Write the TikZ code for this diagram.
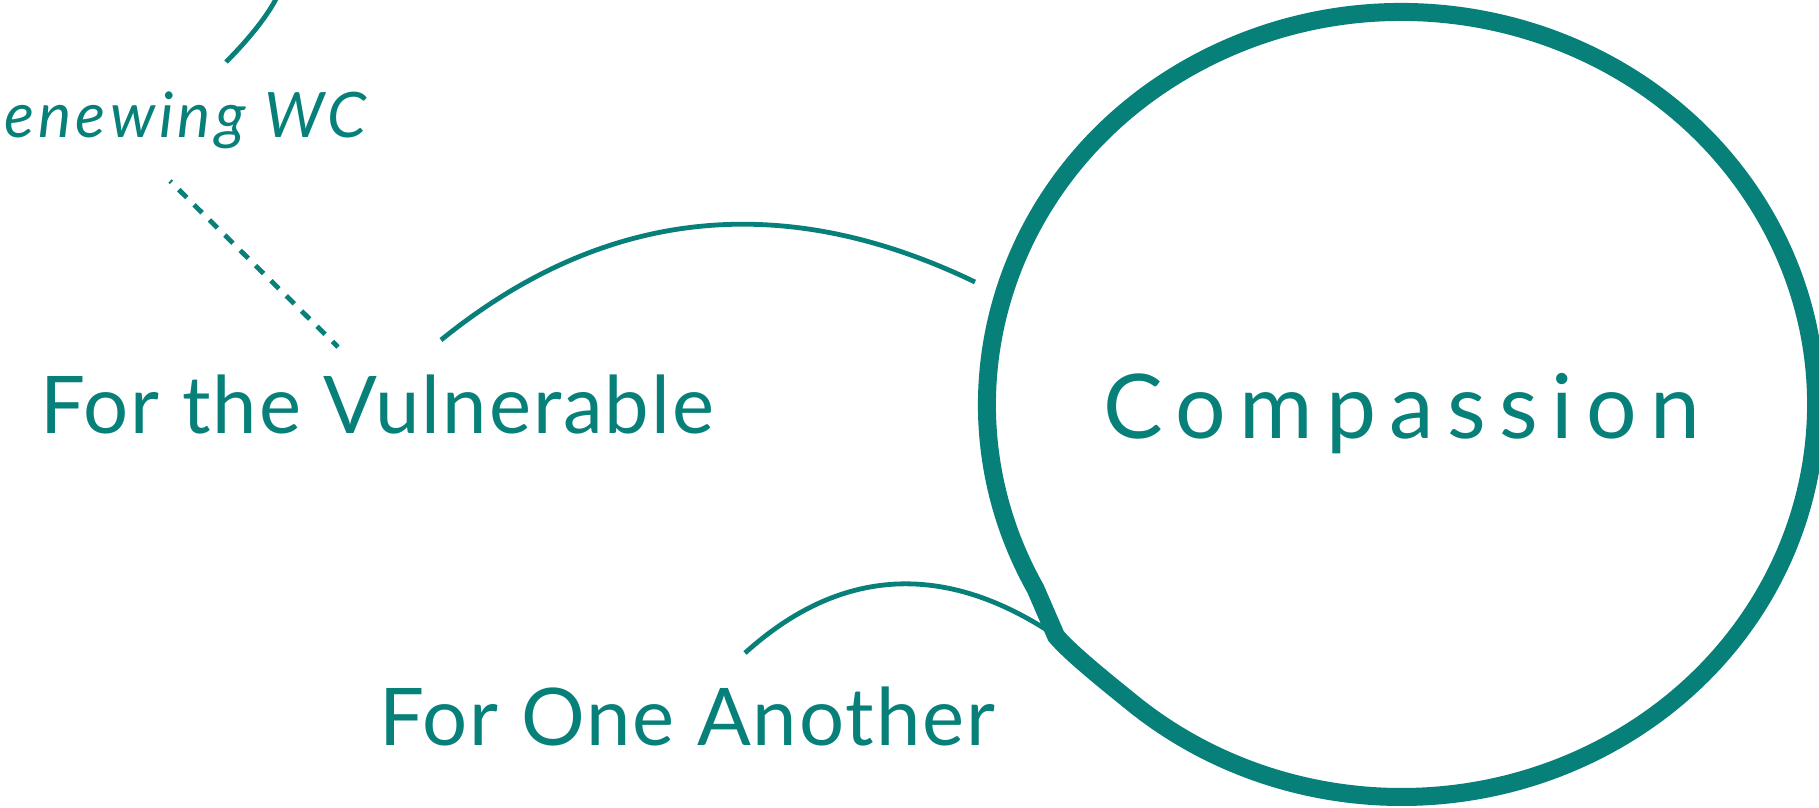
\documentclass[tikz,border=0pt]{standalone}
\usepackage{fontspec}
\setmainfont{Lato}
\newfontfamily\wcfont[LetterSpace=2.5]{Lato}
\newfontfamily\wcitfont[LetterSpace=6.5]{Lato}
\newfontfamily\wcwidefont[LetterSpace=15]{Lato}
\definecolor{wcteal}{RGB}{8,128,122}

\begin{document}
\begin{tikzpicture}[x=0.75pt,y=0.75pt,yscale=-1,xscale=1]
\useasboundingbox (0,0) rectangle (1819,807);
\clip (0,0) rectangle (1819,807);

%Shape: Ellipse with kink [id:compassion ring]
\coordinate (kink) at (1056,636);
\draw [color=wcteal, line width=13.5pt] ([shift={(1401.5,404.5)}]152:414.5 and 392.5) arc [start angle=152, end angle=490, x radius=414.5, y radius=392.5] .. controls (1111.5,686) and (1071,654) .. (kink) -- cycle ;

%Curve Lines [id:top left arc]
\draw [color=wcteal, line width=3.6pt] (277,-3) .. controls (268,15) and (250,38) .. (226,62) ;
%Straight Lines [id:dashed link]
\draw [color=wcteal, line width=3.6pt, dash pattern=on 8.5pt off 7.7pt, dash phase=7pt] (170,181) -- (338,347) ;
%Curve Lines [id:upper arc]
\draw [color=wcteal, line width=3.6pt] (441,340) .. controls (600,211) and (778,187) .. (975,282) ;
%Curve Lines [id:lower arc]
\draw [color=wcteal, line width=3.6pt] (745,653) .. controls (840,567) and (945,561) .. (kink) ;

% Text Node
\node (renewing) [anchor=base east, inner sep=0pt, text=wcteal, font=\wcitfont\itshape\fontsize{47}{52}\selectfont] at (367,137) {Renewing WC};
% Text Node
\node (vulnerable) [anchor=base west, inner sep=0pt, text=wcteal, font=\wcfont\fontsize{59.7}{66}\selectfont] at (40,433) {For the Vulnerable};
% Text Node
\node (compassion) [anchor=base west, inner sep=0pt, text=wcteal, font=\wcwidefont\fontsize{67}{74}\selectfont] at (1103,438) {Compassion};
% Text Node
\node (oneanother) [anchor=base west, inner sep=0pt, text=wcteal, font=\wcfont\fontsize{59.7}{66}\selectfont] at (379,745) {For One Another};

\end{tikzpicture}
\end{document}
